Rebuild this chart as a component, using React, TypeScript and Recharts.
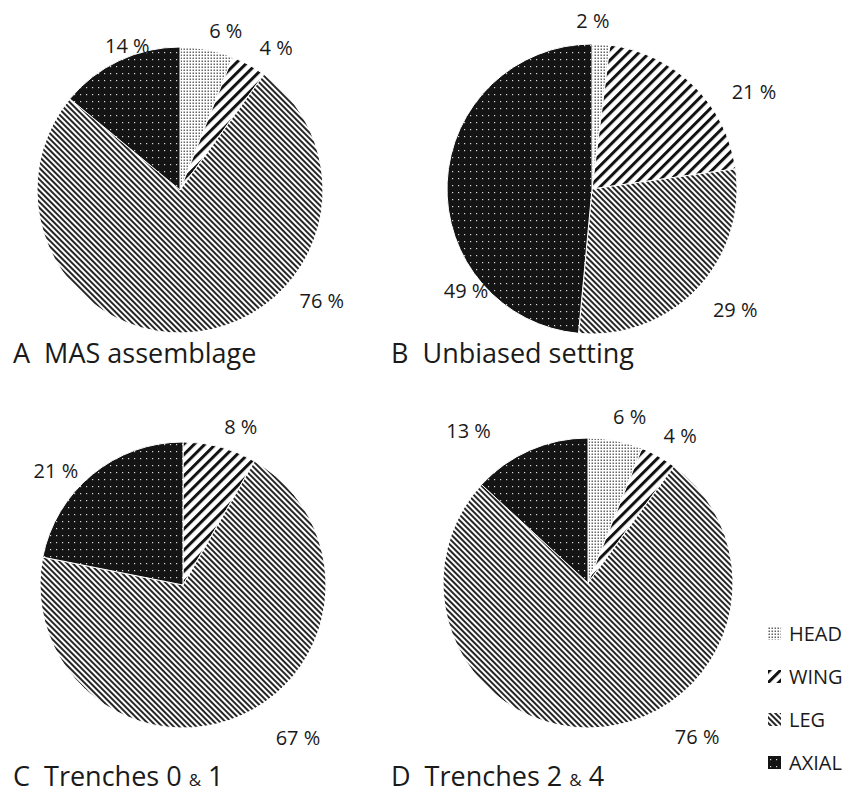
import React from "react";
import { PieChart, Pie, Cell } from "recharts";

// categories shared by all four panels
const categories = ["HEAD", "WING", "LEG", "AXIAL"];

// percentages
const masValues = [6, 4, 76, 14];
const unbiasedValues = [2, 21, 29, 49];
const trenches01Values = [0, 8, 67, 21];
const trenches24Values = [6, 4, 76, 13];

const patternIds = ["patHead", "patWing", "patLeg", "patAxial"];

const font = "'Open Sans', 'Noto Sans', sans-serif";

// layout of each panel (center, radius, label placement angle/distance)
const panels = [
  {
    values: masValues,
    cx: 180,
    cy: 190,
    r: 143,
    labelAngle: [16, 34, 128, 340],
    labelDist: [166, 172, 180, 154],
  },
  {
    values: unbiasedValues,
    cx: 592,
    cy: 189,
    r: 145,
    labelAngle: [0.3, 59, 130, 231],
    labelDist: [169, 189, 187, 162],
  },
  {
    values: trenches01Values,
    cx: 183,
    cy: 585,
    r: 143,
    labelAngle: [0, 20, 143, 312],
    labelDist: [0, 169, 191, 171],
  },
  {
    values: trenches24Values,
    cx: 588,
    cy: 583,
    r: 145,
    labelAngle: [14, 32, 144.5, 322],
    labelDist: [172, 174, 188, 194],
  },
];

const titles = [
  { letter: "A", text: "MAS assemblage", left: 13, top: 340 },
  { letter: "B", text: "Unbiased setting", left: 391, top: 340 },
  { letter: "C", text: "Trenches 0 & 1", left: 13, top: 763 },
  { letter: "D", text: "Trenches 2 & 4", left: 391, top: 763 },
];

const Patterns = () => (
  <svg width={0} height={0} style={{ position: "absolute" }}>
    <defs>
      <pattern id="patHead" width={3} height={3} patternUnits="userSpaceOnUse">
        <rect width={3} height={3} fill="#fff" />
        <rect x={0.5} y={0.5} width={1.5} height={1.5} fill="#666" />
      </pattern>
      <pattern
        id="patWing"
        width={7.5}
        height={7.5}
        patternUnits="userSpaceOnUse"
        patternTransform="rotate(45)"
      >
        <rect width={7.5} height={7.5} fill="#fff" />
        <rect x={0} y={0} width={3} height={7.5} fill="#111" />
      </pattern>
      <pattern
        id="patLeg"
        width={4}
        height={4}
        patternUnits="userSpaceOnUse"
        patternTransform="rotate(-45)"
      >
        <rect width={4} height={4} fill="#fff" />
        <rect x={0} y={0} width={2} height={4} fill="#262626" />
      </pattern>
      <pattern id="patAxial" width={6} height={7} patternUnits="userSpaceOnUse">
        <rect width={6} height={7} fill="#141414" />
        <rect x={2} y={3} width={1.2} height={1.2} fill="#d8d8d8" />
      </pattern>
    </defs>
  </svg>
);

const makeLabel = (panel: any) => (props: any) => {
  const { cx, cy, index, value } = props;
  if (!value) return null;
  const a = (panel.labelAngle[index] * Math.PI) / 180;
  const d = panel.labelDist[index];
  const x = cx + d * Math.sin(a);
  const y = cy - d * Math.cos(a);
  return (
    <text
      x={x}
      y={y}
      textAnchor="middle"
      dominantBaseline="central"
      fill="#1a1a1a"
      fontSize={20}
      fontFamily={font}
    >
      {value} %
    </text>
  );
};

const Title = ({ t }: any) => {
  const parts = t.text.split("&");
  return (
    <div
      style={{
        position: "absolute",
        left: t.left,
        top: t.top,
        fontFamily: font,
        fontSize: 27,
        color: "#1a1a1a",
        whiteSpace: "pre",
        lineHeight: "26px",
      }}
    >
      {t.letter + "  " + parts[0]}
      {parts.length > 1 && <span style={{ fontSize: 17 }}>&amp;</span>}
      {parts.length > 1 && parts[1]}
    </div>
  );
};

const Legend = () => (
  <div style={{ position: "absolute", left: 768, top: 612 }}>
    {categories.map((c, i) => (
      <div
        key={c}
        style={{
          display: "flex",
          alignItems: "center",
          height: 43,
          fontFamily: font,
          fontSize: 20,
          color: "#1a1a1a",
        }}
      >
        <svg width={13} height={13} style={{ marginRight: 8 }}>
          <rect width={13} height={13} fill={`url(#${patternIds[i]})`} />
        </svg>
        {c}
      </div>
    ))}
  </div>
);

export default function App() {
  return (
    <div
      style={{
        position: "absolute",
        left: 0,
        top: 0,
        width: 862,
        height: 795,
        background: "#fff",
      }}
    >
      <Patterns />
      <PieChart width={862} height={795} margin={{ top: 0, right: 0, bottom: 0, left: 0 }}>
        {panels.map((p, k) => (
          <Pie
            key={k}
            data={categories.map((c, i) => ({ name: c, value: p.values[i] }))}
            dataKey="value"
            nameKey="name"
            cx={p.cx}
            cy={p.cy}
            outerRadius={p.r}
            startAngle={90}
            endAngle={-270}
            stroke="#fff"
            strokeWidth={1}
            labelLine={false}
            label={makeLabel(p)}
            isAnimationActive={false}
          >
            {categories.map((c, i) => (
              <Cell key={c} fill={`url(#${patternIds[i]})`} />
            ))}
          </Pie>
        ))}
      </PieChart>
      {titles.map((t) => (
        <Title key={t.letter} t={t} />
      ))}
      <Legend />
    </div>
  );
}
